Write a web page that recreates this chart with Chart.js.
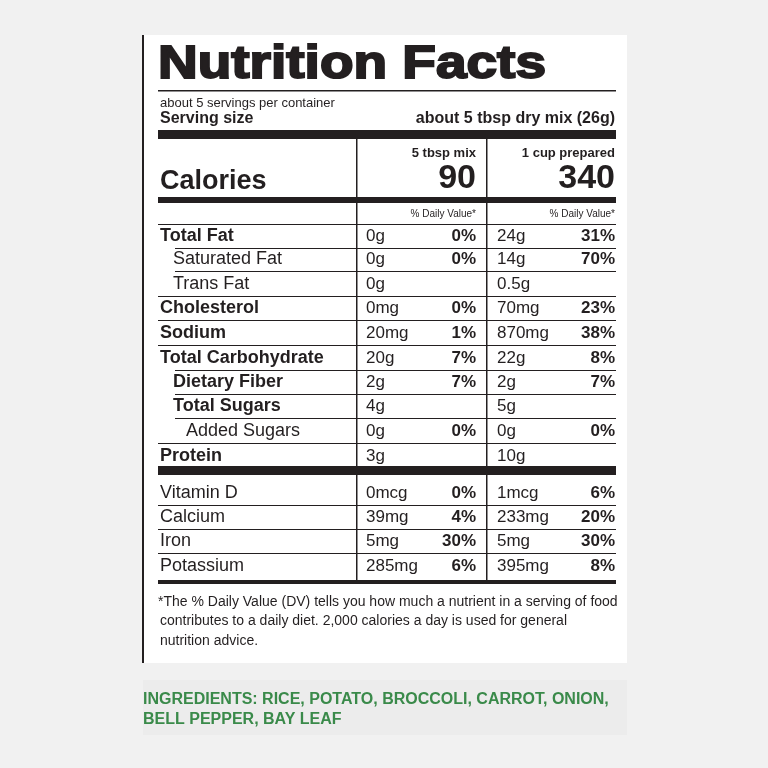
<!DOCTYPE html>
<html><head><meta charset="utf-8">
<script src="https://cdn.jsdelivr.net/npm/chart.js@4"></script>
<style>html,body{margin:0;padding:0;background:#f1f1f1}#w{width:768px;height:768px}</style>
</head><body><div id="w"><canvas id="c" width="768" height="768"></canvas></div>
<script>
const nutrients = ["Total Fat","Saturated Fat","Trans Fat","Cholesterol","Sodium","Total Carbohydrate","Dietary Fiber","Total Sugars","Added Sugars","Protein","Vitamin D","Calcium","Iron","Potassium"];
const indent = [0,1,1,0,0,0,1,1,2,0,0,0,0,0];
const boldRow = [1,0,0,1,1,1,1,1,0,1,0,0,0,0];
const amountMix = ["0g","0g","0g","0mg","20mg","20g","2g","4g","0g","3g","0mcg","39mg","5mg","285mg"];
const dvMix = ["0%","0%","","0%","1%","7%","7%","","0%","","0%","4%","30%","6%"];
const amountPrep = ["24g","14g","0.5g","70mg","870mg","22g","2g","5g","0g","10g","1mcg","233mg","5mg","395mg"];
const dvPrep = ["31%","70%","","23%","38%","8%","7%","","0%","","6%","20%","30%","8%"];
const rowY = [236,259,284,308,333,358,382,406,431,456,493,517,541,566];
const calories = [90,340];
const F = '"Liberation Sans", Arial, sans-serif';

const labelPlugin = {
  id:'label',
  afterDraw(chart){
    const ctx=chart.ctx, X=v=>chart.scales.x.getPixelForValue(v), Y=v=>chart.scales.y.getPixelForValue(v);
    const K='#231f20';
    ctx.save();
    ctx.fillStyle='#fff'; ctx.fillRect(X(143),Y(35),X(627)-X(143),Y(663)-Y(35));
    ctx.fillStyle='#ececec'; ctx.fillRect(X(143),Y(680),X(627)-X(143),Y(735)-Y(680));
    ctx.fillStyle=K; ctx.fillRect(X(142),Y(35),2,Y(663)-Y(35));
    const hl=(y,h,x1=158,x2=616)=>{ctx.fillStyle=K;ctx.fillRect(X(x1),Y(y),X(x2)-X(x1),h);};
    const t=(s,x,y,font,al='left')=>{ctx.fillStyle=K;ctx.font=font;ctx.textAlign=al;ctx.textBaseline='middle';ctx.fillText(s,X(x),Y(y));};
    ctx.save();
    ctx.translate(X(158),Y(65));
    ctx.scale(1.17,1);
    ctx.fillStyle=K; ctx.font='900 47px '+F; ctx.textAlign='left'; ctx.textBaseline='middle';
    ctx.lineWidth=2; ctx.strokeStyle=K;
    ctx.fillText("Nutrition Facts",0,0); ctx.strokeText("Nutrition Facts",0,0);
    ctx.restore();
    hl(90,1.5);
    t("about 5 servings per container",160,103,'13px '+F);
    t("Serving size",160,119,'bold 16px '+F);
    t("about 5 tbsp dry mix (26g)",615,119,'bold 16px '+F,'right');
    hl(130,9);
    t("5 tbsp mix",476,153,'bold 13px '+F,'right');
    t("1 cup prepared",615,153,'bold 13px '+F,'right');
    t("Calories",160,182,'bold 27px '+F);
    t(String(calories[0]),476,179,'bold 34px '+F,'right');
    t(String(calories[1]),615,179,'bold 34px '+F,'right');
    hl(197,6);
    t("% Daily Value*",476,214,'10px '+F,'right');
    t("% Daily Value*",615,214,'10px '+F,'right');
    hl(224,1);
    ctx.fillStyle=K; ctx.fillRect(X(356),Y(139),1.5,Y(580)-Y(139)); ctx.fillRect(X(486),Y(139),1.5,Y(580)-Y(139));
    nutrients.forEach((n,i)=>{
      const y=rowY[i];
      t(n,160+indent[i]*13,y,(boldRow[i]?'bold ':'')+'18px '+F);
      t(amountMix[i],366,y,'17px '+F);
      t(dvMix[i],476,y,'bold 17px '+F,'right');
      t(amountPrep[i],497,y,'17px '+F);
      t(dvPrep[i],615,y,'bold 17px '+F,'right');
      if(i<nutrients.length-1 && i!==9) hl(y+12,1, i===0||i===1||i===5||i===6||i===7?175:158);
    });
    hl(466,9);
    hl(580,4);
    t("*The % Daily Value (DV) tells you how much a nutrient in a serving of food",158,602,'14px '+F);
    t("contributes to a daily diet. 2,000 calories a day is used for general",160,621,'14px '+F);
    t("nutrition advice.",160,641,'14px '+F);
    ctx.fillStyle='#3a8a4a'; ctx.font='bold 16px '+F; ctx.textAlign='left'; ctx.textBaseline='middle';
    ctx.fillText("INGREDIENTS: RICE, POTATO, BROCCOLI, CARROT, ONION,",X(143),Y(700));
    ctx.fillText("BELL PEPPER, BAY LEAF",X(143),Y(720));
    ctx.restore();
  }
};
new Chart(document.getElementById('c'),{
  type:'scatter',
  data:{datasets:[{data:rowY.map(y=>({x:160,y})),pointRadius:0}]},
  options:{responsive:false,animation:false,layout:{padding:0},
    plugins:{legend:{display:false},tooltip:{enabled:false}},
    scales:{x:{type:'linear',min:0,max:768,display:false},y:{type:'linear',min:0,max:768,reverse:true,display:false}}},
  plugins:[labelPlugin]
});
</script></body></html>
